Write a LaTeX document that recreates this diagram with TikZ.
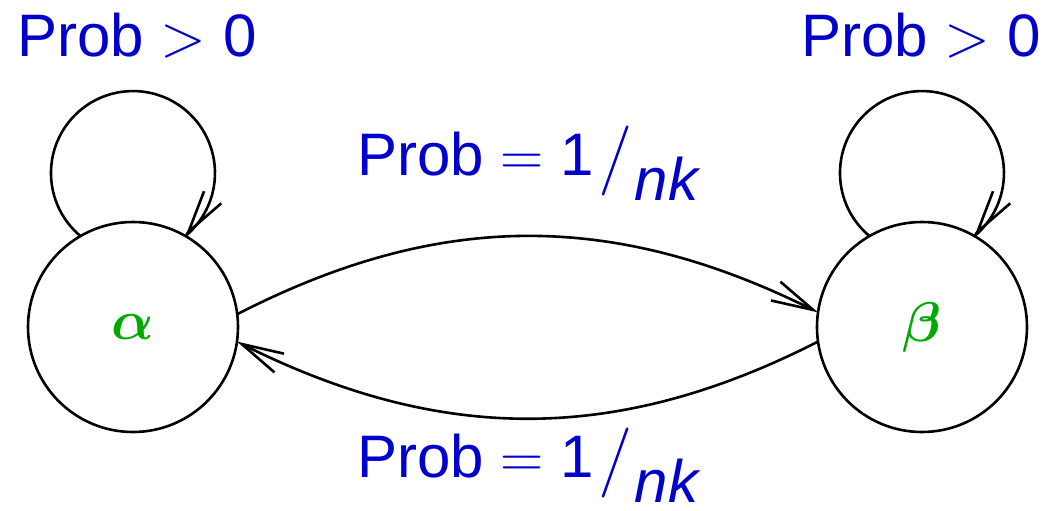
\RequirePackage{fix-cm}
\documentclass[tikz,border=0pt]{standalone}
\usepackage{bm}
\usepackage[no-math]{fontspec}
\setmainfont{Liberation Sans}
\usetikzlibrary{arrows.meta,bending}
\definecolor{lblblue}{RGB}{0,0,204}
\definecolor{stgreen}{RGB}{0,170,0}
\tikzset{
  state/.style={circle,draw,line width=1.3pt,minimum size=105pt,inner sep=0pt,outer sep=0pt,
    text=stgreen,font=\fontsize{28}{32}\selectfont},
  arr/.style={line width=1.3pt,-{Straight Barb[length=21pt,width=10.5pt,line width=1.3pt,flex=1]}},
  loopline/.style={line width=1.3pt},
  lbl/.style={inner sep=0pt,outer sep=0pt,text=lblblue,font=\fontsize{30}{36}\selectfont}
}
\newcommand{\probfrac}{Prob $=$ 1\hspace{2.5pt}\raisebox{-1.5pt}{\fontsize{35}{40}\selectfont$/$}\hspace{1pt}\raisebox{-12.5pt}{\itshape nk}}
\begin{document}
\begin{tikzpicture}[x=0.5pt,y=0.5pt]
\useasboundingbox (0,0) rectangle (1046,510);
\node[state] (a) at (133,183) {$\bm{\alpha}$};
\node[state] (b) at (922,183) {$\bm{\beta}$};
\node[lbl,anchor=base] (la) at (137,453) {Prob $>$ 0};
\node[lbl,anchor=base] (lb) at (921,453) {Prob $>$ 0};
\node[lbl,anchor=base west] (lt) at (357,335) {\probfrac};
\node[lbl,anchor=base west] (lbt) at (357,33) {\probfrac};
\draw[loopline] (a.120) arc[start angle=230.2,end angle=-50.2,radius=41pt];
\draw[arr] ([shift={(55:1pt)}]a.60) -- (a.60);
\draw[loopline] (b.120) arc[start angle=230.2,end angle=-50.2,radius=41pt];
\draw[arr] ([shift={(55:1pt)}]b.60) -- (b.60);
\draw[arr] (a.7) to[bend left=27] (b.172);
\draw[arr] (b.188) to[bend left=27] (a.352);
\end{tikzpicture}
\end{document}
